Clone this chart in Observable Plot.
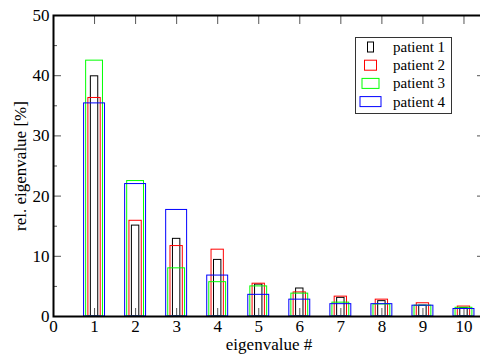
<!DOCTYPE html>
<html>
<head>
<meta charset="utf-8">
<script src="https://cdn.jsdelivr.net/npm/d3@7"></script>
<script src="https://cdn.jsdelivr.net/npm/@observablehq/plot@0.6"></script>
<style>
  html, body { margin: 0; padding: 0; background: white; overflow: hidden; }
  #chart svg { overflow: hidden; display: block; }
</style>
</head>
<body>
<div id="chart"></div>
<script>
// Relative eigenvalues (%) of the first ten eigenvalues, per patient
const eigenvalues = [1, 2, 3, 4, 5, 6, 7, 8, 9, 10];
const patient1 = [39.9, 15.1, 12.9, 9.4, 5.3, 4.65, 3.1, 2.55, 1.8, 1.4];
const patient2 = [36.3, 15.9, 11.7, 11.1, 5.45, 4.0, 3.3, 2.8, 2.2, 1.65];
const patient3 = [42.5, 22.5, 8.0, 5.7, 5.0, 3.8, 2.3, 2.0, 1.8, 1.45];
const patient4 = [35.4, 22.0, 17.7, 6.8, 3.6, 2.8, 2.05, 2.05, 1.8, 1.25];
const seriesNames = ["patient 1", "patient 2", "patient 3", "patient 4"];
const xTicks = [0, 1, 2, 3, 4, 5, 6, 7, 8, 9, 10];
const yTicks = [0, 10, 20, 30, 40, 50];
const yMinorTicks = [5, 15, 25, 35, 45];

// Drawing style per series: outline colour and bar width (in x units)
const colors = ["#000000", "#ff0000", "#00ff00", "#0000ff"];
const barWidths = [0.18, 0.3, 0.41, 0.51];

const series = [patient1, patient2, patient3, patient4];
const rows = series.flatMap((vals, s) =>
  eigenvalues.map((e, i) => ({
    s,
    x1: e - barWidths[s] / 2,
    x2: e + barWidths[s] / 2,
    value: vals[i]
  }))
);

const font = "'Liberation Serif', 'DejaVu Serif', serif";

const plot = Plot.plot({
  width: 480,
  height: 356,
  marginTop: 15,
  marginBottom: 40,
  marginLeft: 53,
  marginRight: -4,
  x: {domain: [0, 10.5]},
  y: {domain: [0, 50]},
  style: {fontFamily: font, fontSize: "17px", color: "black", background: "white"},
  marks: [
    // tick labels
    Plot.axisX({ticks: xTicks, tickSize: 0, tickPadding: 3, tickFormat: d => d, label: null}),
    Plot.axisY({ticks: yTicks, tickSize: 0, tickPadding: 4, tickFormat: d => d, label: null}),
    // inward ticks on all four sides
    Plot.axisX({ticks: xTicks, tickSize: -8, text: null, label: null, stroke: "#555"}),
    Plot.axisX({anchor: "top", ticks: xTicks, tickSize: -8, text: null, label: null, stroke: "#555"}),
    Plot.axisY({ticks: yTicks, tickSize: -8, text: null, label: null, stroke: "#555"}),
    Plot.axisY({ticks: yMinorTicks, tickSize: -4, text: null, label: null, stroke: "#555"}),
    Plot.axisY({anchor: "right", ticks: yTicks, tickSize: -8, text: null, label: null, stroke: "#555"}),
    Plot.axisY({anchor: "right", ticks: yMinorTicks, tickSize: -4, text: null, label: null, stroke: "#555"}),
    // outlined bars
    Plot.rect(rows, {
      x1: "x1", x2: "x2", y1: 0, y2: "value",
      fill: "none",
      stroke: d => colors[d.s],
      strokeWidth: 1
    }),
    Plot.frame({stroke: "black", strokeWidth: 2}),
    // axis titles
    Plot.text(["eigenvalue #"], {
      frameAnchor: "bottom", dy: 28, lineAnchor: "middle", textAnchor: "middle", fontSize: 17
    }),
    Plot.text(["rel. eigenvalue [%]"], {
      frameAnchor: "left", dx: -33, rotate: -90, textAnchor: "middle", fontSize: 17
    })
  ]
});

// Legend box in the upper right corner of the plot area
const svg = d3.select(plot);
const lg = svg.append("g")
  .attr("font-family", font).attr("font-size", 15).attr("text-anchor", "start");
lg.append("rect")
  .attr("x", 355.5).attr("y", 37.5).attr("width", 96).attr("height", 76)
  .attr("fill", "white").attr("stroke", "#333").attr("stroke-width", 1);
const swatchW = [6, 12, 17, 21];
seriesNames.forEach((name, i) => {
  const cy = 47 + i * 18.2;
  lg.append("rect")
    .attr("x", 370.5 - swatchW[i] / 2).attr("y", cy - 5)
    .attr("width", swatchW[i]).attr("height", 10)
    .attr("fill", "none").attr("stroke", colors[i]).attr("stroke-width", 1);
  lg.append("text")
    .attr("x", 393).attr("y", cy + 5)
    .attr("fill", "black")
    .text(name);
});

document.getElementById("chart").appendChild(plot);
</script>
</body>
</html>
